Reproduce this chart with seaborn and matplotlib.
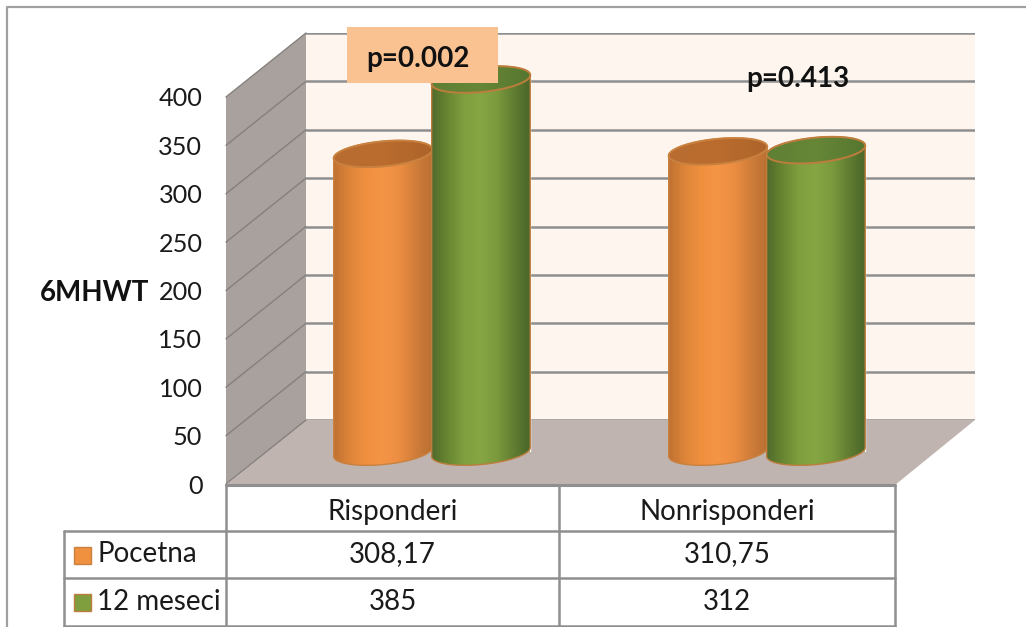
import numpy as np
import pandas as pd
import matplotlib
matplotlib.use("Agg")
import matplotlib.pyplot as plt
import seaborn as sns
from matplotlib.colors import LinearSegmentedColormap
from matplotlib.patches import Polygon, Rectangle

categories = ["Risponderi", "Nonrisponderi"]
pocetna = [308.17, 310.75]
meseci = [385, 312]
series_names = ["Pocetna", "12 meseci"]
y_ticks = [0, 50, 100, 150, 200, 250, 300, 350, 400]
p_values = ["p=0.002", "p=0.413"]

W, H = 1026, 627
GRID = "#8f8f8f"
FONT = "Lato"

df = pd.DataFrame({
    "group": categories * 2,
    "serie": [series_names[0]] * 2 + [series_names[1]] * 2,
    "value": pocetna + meseci,
})

sns.set_theme(style="white")
plt.rcParams["font.family"] = FONT
fig = plt.figure(figsize=(W / 100, H / 100), dpi=100, facecolor="white")


def px_axes(x0, y0, x1, y1, **kw):
    # axes placed with picture pixels, y counted from the top
    return fig.add_axes([x0 / W, 1 - y1 / H, (x1 - x0) / W, (y1 - y0) / H], **kw)


# background layer in pixels: frame, walls, floor
bg = px_axes(0, 0, W, H)
bg.set_xlim(0, W)
bg.set_ylim(H, 0)
bg.axis("off")
bg.plot([7, 7, W], [H, 7, 7], color="#a0a0a0", lw=1.6)
bg.add_patch(Polygon([(306, 33), (975, 33), (975, 420), (306, 420)], fc="#fef5ee", ec="none"))
bg.add_patch(Polygon([(226, 97), (306, 33), (306, 420), (226, 484)], fc="#a9a19d", ec="none"))
bg.add_patch(Polygon([(226, 485), (306, 420), (975, 420), (895, 485)], fc="#c0b4b1", ec="none"))

# back wall grid, same scale as the ticks
wall = px_axes(306, 33, 975, 420, sharex=None)
wall.patch.set_alpha(0)
wall.set_ylim(0, 400)
wall.set_xticks([])
wall.set_yticks(y_ticks)
wall.tick_params(left=False, labelleft=False)
wall.grid(axis="y", color=GRID, lw=1.8)
sns.despine(ax=wall, left=True, bottom=True, right=True, top=True)
for t in y_ticks:
    yf = 484 - t * (387 / 400)
    yb = 420 - t * (387 / 400)
    bg.plot([226, 306], [yf, yb], color="#85807d", lw=1.0)

# front axis carrying the tick labels
front = px_axes(226, 97, 227, 484)
front.patch.set_alpha(0)
front.set_ylim(0, 400)
front.set_xticks([])
front.set_yticks(y_ticks)
front.set_yticklabels([str(t) for t in y_ticks], fontsize=18.2, color="#1a1a1a", family=FONT)
front.tick_params(left=False, pad=11)
sns.despine(ax=front, left=True, bottom=True)

# bars: zero sits on the middle of the floor
bars = px_axes(306, 65, 975, 452)
bars.patch.set_alpha(0)
sns.barplot(data=df, x="group", y="value", hue="serie", order=categories,
            hue_order=series_names, palette=["#f79646", "#85a43f"], saturation=1,
            width=0.585, gap=0, legend=False, ax=bars)
bars.set_ylim(0, 400)
bars.set_xlim(-0.376, 1.621)
bars.axis("off")

# overlay in pixels: turn the seaborn bars into cylinders
top = px_axes(0, 0, W, H)
top.patch.set_alpha(0)
top.set_xlim(0, W)
top.set_ylim(H, 0)
top.axis("off")

cmaps = {
    0: LinearSegmentedColormap.from_list("o", ["#bd6f30", "#dc8439", "#f0903f", "#f49445", "#ec8e42", "#d07d3a", "#b96f32"]),
    1: LinearSegmentedColormap.from_list("g", ["#4d682b", "#678531", "#7f9e3e", "#86a543", "#7b9a3d", "#607d31", "#4a652a"]),
}
lid_maps = {
    0: LinearSegmentedColormap.from_list("ol", ["#b96d30", "#bb6c2e", "#ad642a"]),
    1: LinearSegmentedColormap.from_list("gl", ["#5f7f34", "#668737", "#567630"]),
}
edges = {0: "#c9813f", 1: "#bd7d3c"}
grad = np.linspace(0, 1, 200).reshape(1, -1)
TILT = np.deg2rad(5.5)
B = 12.5


def ellipse_pts(cx, cy, a, b, t):
    ex, ey = a * np.cos(t), b * np.sin(t)
    return cx + ex * np.cos(TILT) + ey * np.sin(TILT), cy - ex * np.sin(TILT) + ey * np.cos(TILT)


order = sorted([p for p in bars.patches if p.get_height() > 0], key=lambda p: p.get_x())
for i, patch in enumerate(order):
    kind = i % 2
    x0 = patch.get_x()
    x1 = x0 + patch.get_width()
    val = patch.get_height()
    (px0, py_top) = bars.transData.transform((x0, val))
    (px1, py_bot) = bars.transData.transform((x1, 0))
    py_top, py_bot = H - py_top, H - py_bot
    cx, a = (px0 + px1) / 2, (px1 - px0) / 2 + 0.5

    lower = ellipse_pts(cx, py_bot, a, B, np.linspace(0, np.pi, 60))
    upper = ellipse_pts(cx, py_top, a, B, np.linspace(np.pi, 2 * np.pi, 60))
    outline = np.column_stack([np.r_[lower[0], upper[0]], np.r_[lower[1], upper[1]]])
    z = 3 + i
    body = Polygon(outline, closed=True, fc="none", ec=edges[kind], lw=1.0, zorder=z + 0.2)
    top.add_patch(body)
    im = top.imshow(grad, extent=[cx - a - 1, cx + a + 1, py_bot + B + 8, py_top - B - 8],
                    aspect="auto", cmap=cmaps[kind], zorder=z)
    im.set_clip_path(Polygon(outline, closed=True, transform=top.transData))

    lid_pts = np.column_stack(ellipse_pts(cx, py_top, a, B, np.linspace(0, 2 * np.pi, 120)))
    lid = Polygon(lid_pts, closed=True, fc="none", ec=edges[kind], lw=1.4, zorder=z + 0.4)
    top.add_patch(lid)
    im2 = top.imshow(grad, extent=[cx - a - 1, cx + a + 1, py_top + B + 8, py_top - B - 8],
                     aspect="auto", cmap=lid_maps[kind], zorder=z + 0.3)
    im2.set_clip_path(Polygon(lid_pts, closed=True, transform=top.transData))
top.set_xlim(0, W)
top.set_ylim(H, 0)

# p value labels
top.add_patch(Rectangle((347, 27), 151, 56, fc="#fac191", ec="none", zorder=10))
top.text(418, 59, p_values[0], ha="center", va="center", fontsize=20, fontweight="bold", color="#111111", zorder=11)
top.text(798, 79, p_values[1], ha="center", va="center", fontsize=20, fontweight="bold", color="#111111", zorder=11)
top.text(95, 293, "6MHWT", ha="center", va="center", fontsize=20, fontweight="bold", color="#111111", zorder=11)

# data table under the chart
col_x = [226, 559, 895]
row_y = [485, 531, 578, 626]
for x in col_x:
    top.plot([x, x], [row_y[0], row_y[-1]], color=GRID, lw=1.8, zorder=6)
top.plot([226, 895], [row_y[0], row_y[0]], color=GRID, lw=2.2, zorder=6)
for y in row_y[1:]:
    top.plot([64, 895], [y, y], color=GRID, lw=1.8, zorder=6)
top.plot([64, 64], [row_y[1], row_y[-1]], color=GRID, lw=1.8, zorder=6)

for j, name in enumerate(categories):
    top.text((col_x[j] + col_x[j + 1]) / 2, (row_y[0] + row_y[1]) / 2 + 4, name,
             ha="center", va="center", fontsize=20, color="#1a1a1a")
for r, (label, vals, colour, ec) in enumerate(zip(series_names, [pocetna, meseci],
                                                  ["#f0913f", "#7f9e3e"], ["#c9813f", "#bd7d3c"])):
    yc = (row_y[r + 1] + row_y[r + 2]) / 2
    top.add_patch(Rectangle((74, yc - 8), 17, 17, fc=colour, ec=ec, lw=1, zorder=7))
    top.text(97, yc, label, ha="left", va="center", fontsize=20, color="#1a1a1a")
    for j, v in enumerate(vals):
        top.text((col_x[j] + col_x[j + 1]) / 2, yc, f"{v:g}".replace(".", ","),
                 ha="center", va="center", fontsize=20, color="#1a1a1a")

fig.savefig("out.png", dpi=100, facecolor="white")
